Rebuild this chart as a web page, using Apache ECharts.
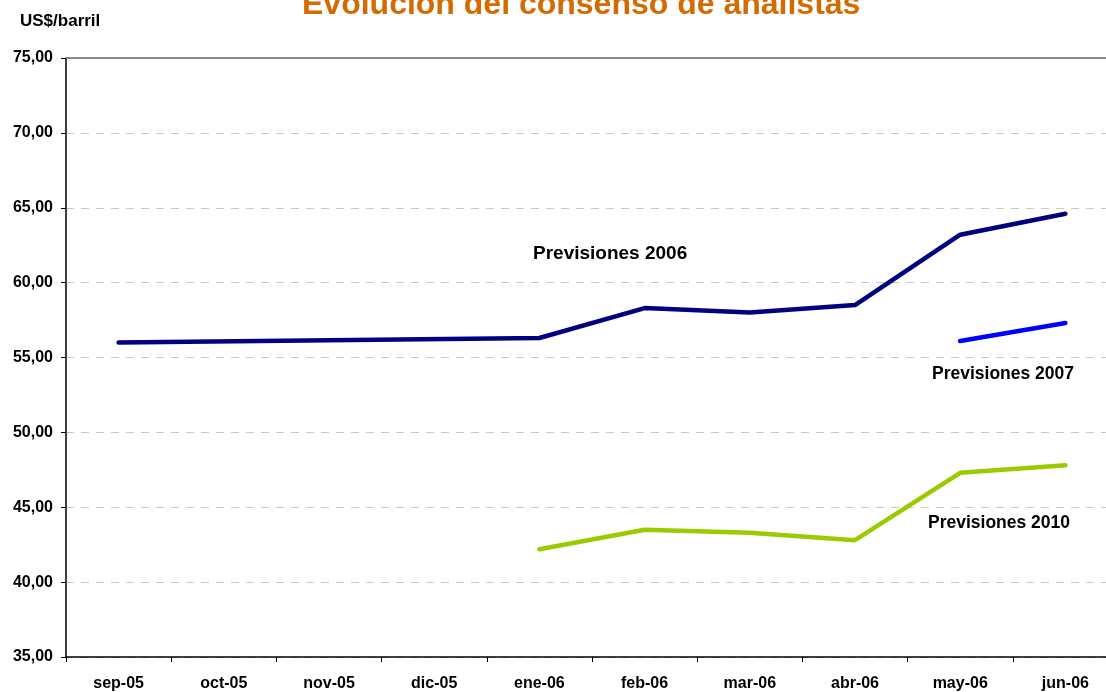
<!DOCTYPE html>
<html>
<head>
<meta charset="utf-8">
<script src="https://cdn.jsdelivr.net/npm/echarts@6/dist/echarts.min.js"></script>
<style>
html,body{margin:0;padding:0;background:#fff;}
#chart{width:1106px;height:692px;}
</style>
</head>
<body>
<div id="chart"></div>
<script>
const categories = ['sep-05','oct-05','nov-05','dic-05','ene-06','feb-06','mar-06','abr-06','may-06','jun-06'];
const prev2006 = [56.0, null, null, null, 56.3, 58.3, 58.0, 58.5, 63.2, 64.6];
const prev2007 = [null, null, null, null, null, null, null, null, 56.1, 57.3];
const prev2010 = [null, null, null, null, 42.2, 43.5, 43.3, 42.8, 47.3, 47.8];
const yTicks = {min: 35, max: 75, interval: 5};

const FONT = '"Liberation Sans", Arial, sans-serif';
const chart = echarts.init(document.getElementById('chart'), null, {renderer: 'canvas'});

function lineSeries(name, data, color) {
  return {
    name: name, type: 'line', data: data, connectNulls: true,
    symbol: 'none', smooth: false,
    lineStyle: {color: color, width: 4.5, cap: 'round', join: 'round'},
    itemStyle: {color: color},
    z: 3
  };
}

chart.setOption({
  animation: false,
  backgroundColor: '#ffffff',
  textStyle: {fontFamily: FONT},
  title: {
    text: 'Evolución del consenso de analistas',
    left: 297,
    top: -16,
    textStyle: {color: '#D46A00', fontSize: 32, fontWeight: 'bold', fontFamily: FONT}
  },
  grid: {left: 66, right: -12, top: 58, bottom: 35, containLabel: false, outerBoundsMode: 'none'},
  xAxis: [{
    type: 'category',
    data: categories,
    boundaryGap: true,
    axisLine: {lineStyle: {color: '#000', width: 1.5}},
    axisTick: {show: true, length: 5, lineStyle: {color: '#000'}},
    axisLabel: {color: '#000', fontWeight: 'bold', fontSize: 16, fontFamily: FONT, margin: 19},
    splitLine: {show: false}
  }, {
    type: 'category',
    data: categories,
    position: 'top',
    axisLine: {show: true, lineStyle: {color: '#888', width: 2}},
    axisTick: {show: false},
    axisLabel: {show: false},
    splitLine: {show: false}
  }],
  yAxis: {
    type: 'value',
    min: yTicks.min, max: yTicks.max, interval: yTicks.interval,
    axisLine: {show: true, lineStyle: {color: '#000', width: 1.5}},
    axisTick: {show: true, length: 5, inside: false, lineStyle: {color: '#000'}},
    axisLabel: {
      color: '#000', fontWeight: 'bold', fontSize: 16, fontFamily: FONT, margin: 13,
      formatter: v => v.toFixed(2).replace('.', ',')
    },
    splitLine: {show: true, lineStyle: {color: '#c8c8c8', type: [8, 7], width: 1}}
  },
  series: [
    lineSeries('Previsiones 2006', prev2006, '#000080'),
    lineSeries('Previsiones 2007', prev2007, '#0000FF'),
    lineSeries('Previsiones 2010', prev2010, '#99CC00')
  ],
  graphic: [
    {type: 'text', x: 20, y: 21, style: {text: 'US$/barril', font: 'bold 17px ' + FONT, fill: '#000', verticalAlign: 'middle'}},
    {type: 'text', x: 533, y: 254, style: {text: 'Previsiones 2006', font: 'bold 19px ' + FONT, fill: '#000', verticalAlign: 'middle'}},
    {type: 'text', x: 932, y: 374, style: {text: 'Previsiones 2007', font: 'bold 17.5px ' + FONT, fill: '#000', verticalAlign: 'middle'}},
    {type: 'text', x: 928, y: 523, style: {text: 'Previsiones 2010', font: 'bold 17.5px ' + FONT, fill: '#000', verticalAlign: 'middle'}}
  ]
});
</script>
</body>
</html>
